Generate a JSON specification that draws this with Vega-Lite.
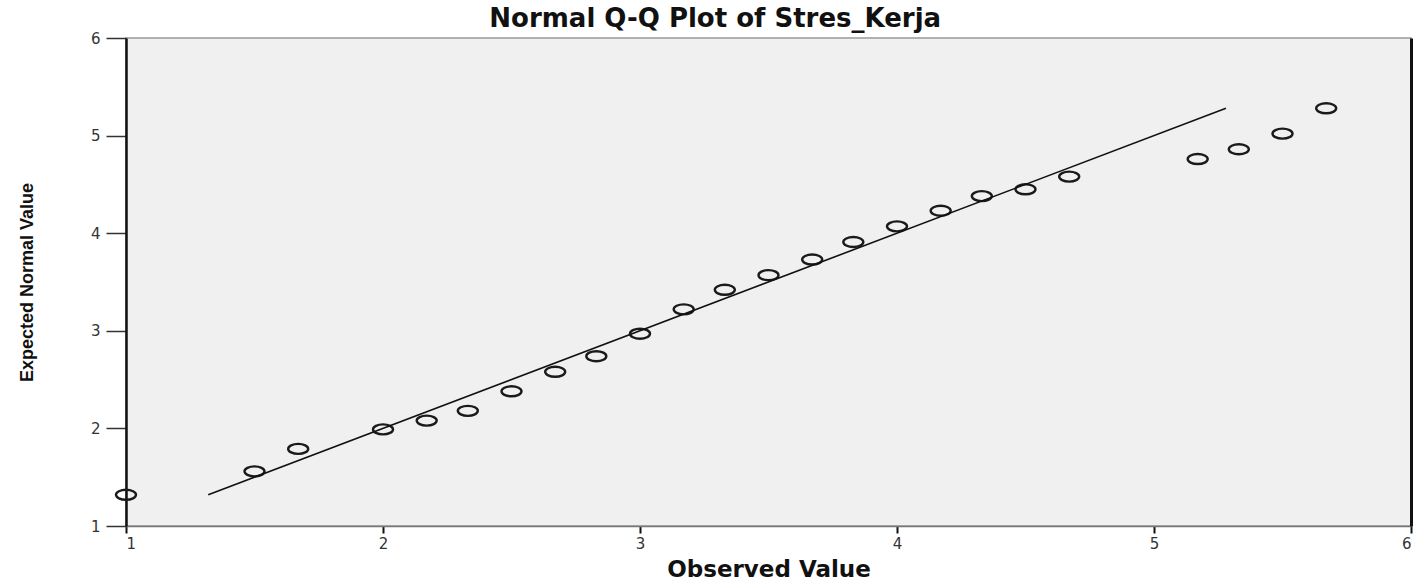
{
  "$schema": "https://vega.github.io/schema/vega-lite/v6.json",
  "width": 1285,
  "height": 488,
  "autosize": {"type": "none"},
  "padding": {"left": 126, "top": 38, "right": 16, "bottom": 55},
  "background": "white",
  "title": {
    "text": "Normal Q-Q Plot of Stres_Kerja",
    "font": "DejaVu Sans",
    "fontSize": 26,
    "fontWeight": "bold",
    "color": "#111",
    "anchor": "middle",
    "frame": "bounds",
    "baseline": "alphabetic",
    "offset": -22
  },
  "config": {
    "view": {"fill": "#f0f0f0", "stroke": "#999", "strokeWidth": 1.5},
    "axis": {"grid": false}
  },
  "resolve": {"axis": {"y": "independent"}},
  "layer": [
    {
      "data": {
        "values": [
          {"obs": 1.0, "exp": 1.32},
          {"obs": 1.5, "exp": 1.56},
          {"obs": 1.67, "exp": 1.79},
          {"obs": 2.0, "exp": 1.99},
          {"obs": 2.17, "exp": 2.08},
          {"obs": 2.33, "exp": 2.18},
          {"obs": 2.5, "exp": 2.38},
          {"obs": 2.67, "exp": 2.58},
          {"obs": 2.83, "exp": 2.74},
          {"obs": 3.0, "exp": 2.97},
          {"obs": 3.17, "exp": 3.22},
          {"obs": 3.33, "exp": 3.42},
          {"obs": 3.5, "exp": 3.57},
          {"obs": 3.67, "exp": 3.73},
          {"obs": 3.83, "exp": 3.91},
          {"obs": 4.0, "exp": 4.07},
          {"obs": 4.17, "exp": 4.23},
          {"obs": 4.33, "exp": 4.38},
          {"obs": 4.5, "exp": 4.45},
          {"obs": 4.67, "exp": 4.58},
          {"obs": 5.17, "exp": 4.76},
          {"obs": 5.33, "exp": 4.86},
          {"obs": 5.5, "exp": 5.02},
          {"obs": 5.67, "exp": 5.28}
        ]
      },
      "mark": {
        "type": "point",
        "shape": "M -1 0 A 1 0.5 0 1 0 1 0 A 1 0.5 0 1 0 -1 0 Z",
        "size": 400,
        "filled": false,
        "stroke": "#1a1a1a",
        "strokeWidth": 2.4,
        "opacity": 1,
        "clip": false
      },
      "encoding": {
        "x": {
          "field": "obs",
          "type": "quantitative",
          "scale": {"domain": [1, 6], "nice": false, "zero": false},
          "axis": {
            "values": [1, 2, 3, 4, 5, 6],
            "format": "d",
            "tickSize": 7,
            "tickWidth": 2,
            "tickColor": "#111",
            "domainColor": "#777",
            "domainWidth": 1.5,
            "labelPadding": 3,
            "labelFont": "DejaVu Sans",
            "labelFontSize": 15,
            "labelColor": "#333",
            "title": "Observed Value",
            "titleFont": "DejaVu Sans",
            "titleFontSize": 23,
            "titleFontWeight": "bold",
            "titleColor": "#111",
            "titlePadding": 7
          }
        },
        "y": {
          "field": "exp",
          "type": "quantitative",
          "scale": {"domain": [1, 6], "nice": false, "zero": false},
          "axis": {
            "orient": "left",
            "values": [1, 2, 3, 4, 5, 6],
            "format": "d",
            "tickSize": 20,
            "tickWidth": 1.5,
            "tickColor": "#333",
            "domainColor": "#111",
            "domainWidth": 2.5,
            "labelPadding": 6,
            "labelFont": "DejaVu Sans",
            "labelFontSize": 15,
            "labelColor": "#333",
            "title": "Expected Normal Value",
            "titleFont": "Liberation Sans",
            "titleFontSize": 18,
            "titleFontWeight": "bold",
            "titleColor": "#111",
            "titlePadding": 54
          }
        }
      }
    },
    {
      "data": {
        "values": [
          {"obs": 1.32, "exp": 1.32},
          {"obs": 5.28, "exp": 5.28}
        ]
      },
      "mark": {"type": "line", "color": "#111", "strokeWidth": 1.6},
      "encoding": {
        "x": {"field": "obs", "type": "quantitative"},
        "y": {
          "field": "exp",
          "type": "quantitative",
          "axis": {
            "orient": "right",
            "labels": false,
            "ticks": false,
            "title": null,
            "domainColor": "#111",
            "domainWidth": 3
          }
        }
      }
    }
  ]
}
